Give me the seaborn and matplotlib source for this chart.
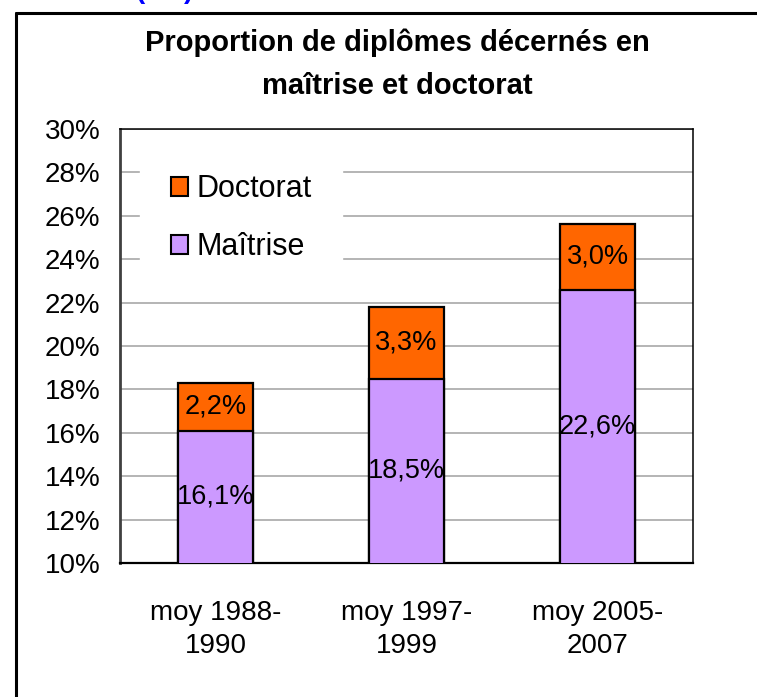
import matplotlib
matplotlib.use("Agg")
import matplotlib.pyplot as plt
import seaborn as sns
import pandas as pd
from matplotlib.patches import Patch
from matplotlib.lines import Line2D

# Données
periodes = ["moy 1988-\n1990", "moy 1997-\n1999", "moy 2005-\n2007"]
maitrise = [16.1, 18.5, 22.6]
doctorat = [2.2, 3.3, 3.0]
yticks = [10, 12, 14, 16, 18, 20, 22, 24, 26, 28, 30]

couleur_doc = "#FF6600"
couleur_mai = "#CC99FF"

df = pd.DataFrame({"Periode": periodes, "Maitrise": maitrise, "Doctorat": doctorat})
df["Total"] = df["Maitrise"] + df["Doctorat"]

sns.set_style("white")
plt.rcParams["font.family"] = ["Liberation Sans", "DejaVu Sans"]
plt.rcParams["text.color"] = "black"
plt.rcParams["xtick.color"] = "black"
plt.rcParams["ytick.color"] = "black"
plt.rcParams["xtick.labelcolor"] = "black"
plt.rcParams["ytick.labelcolor"] = "black"

fig = plt.figure(figsize=(7.57, 6.97), dpi=100)
ax = fig.add_axes([0.1585, 0.1923, 0.757, 0.6227])

# Barres empilées : total (doctorat) puis maîtrise par-dessus
sns.barplot(data=df, x="Periode", y="Total", color=couleur_doc, width=0.39,
            edgecolor="black", linewidth=1.6, saturation=1, ax=ax, zorder=3)
sns.barplot(data=df, x="Periode", y="Maitrise", color=couleur_mai, width=0.39,
            edgecolor="black", linewidth=1.6, saturation=1, ax=ax, zorder=3)

ax.set_ylim(10, 30)
ax.set_yticks(yticks)
ax.set_yticklabels([f"{t}%" for t in yticks], fontsize=20)
ax.set_xlim(-0.5, 2.5)
ax.set_xlabel("")
ax.set_ylabel("")
ax.tick_params(axis="y", length=0, pad=14)
ax.tick_params(axis="x", which="major", length=0, pad=27, labelsize=20)
for lab in ax.get_xticklabels():
    lab.set_linespacing(1.35)
ax.set_xticks([0.5, 1.5], minor=True)
ax.tick_params(axis="x", which="minor", direction="in", length=6, width=1.5, color="#333333")

ax.yaxis.grid(True, color="#A0A0A0", linewidth=1.1, zorder=0)
ax.set_axisbelow(True)

for s in ["top", "right", "bottom"]:
    ax.spines[s].set_color("black")
    ax.spines[s].set_linewidth(1.1)
ax.spines["left"].set_color("#404040")
ax.spines["left"].set_linewidth(2)
ax.spines["bottom"].set_linewidth(1.6)

# Étiquettes de valeurs
def fmt(v):
    return f"{v:.1f}%".replace(".", ",")

for i, (m, d) in enumerate(zip(maitrise, doctorat)):
    ax.text(i, (10 + m) / 2, fmt(m), ha="center", va="center", fontsize=19.5, zorder=5)
    ax.text(i, m + d / 2, fmt(d), ha="center", va="center", fontsize=19.5, zorder=5)

# Légende
handles = [Patch(facecolor=couleur_doc, edgecolor="black", linewidth=1.5, label="Doctorat"),
           Patch(facecolor=couleur_mai, edgecolor="black", linewidth=1.5, label="Maîtrise")]
leg = ax.legend(handles=handles, loc="upper left", bbox_to_anchor=(0.035, 0.966),
                fontsize=22, frameon=True, facecolor="white", edgecolor="white",
                framealpha=1, fancybox=False, handlelength=0.56, handleheight=0.56,
                handletextpad=0.28, labelspacing=0.91, borderpad=1.0, borderaxespad=0)

# Titre
fig.text(397 / 757, 1 - 43 / 697, "Proportion de diplômes décernés en",
         ha="center", va="center", fontsize=21, fontweight="bold")
fig.text(397 / 757, 1 - 86 / 697, "maîtrise et doctorat",
         ha="center", va="center", fontsize=21, fontweight="bold")

# Cadre extérieur et fragment en haut
fig.add_artist(Line2D([15.5 / 757, 15.5 / 757], [0, 1 - 13 / 697], color="black", linewidth=2.2))
fig.add_artist(Line2D([15.5 / 757, 1.0], [1 - 13 / 697, 1 - 13 / 697], color="black", linewidth=2.2))
fig.text(164.5 / 757, 1 + 2 / 697, "(     )", ha="center", va="baseline", fontsize=20,
         fontweight="bold", color="#0000FF")

fig.savefig("out.png", dpi=100)
